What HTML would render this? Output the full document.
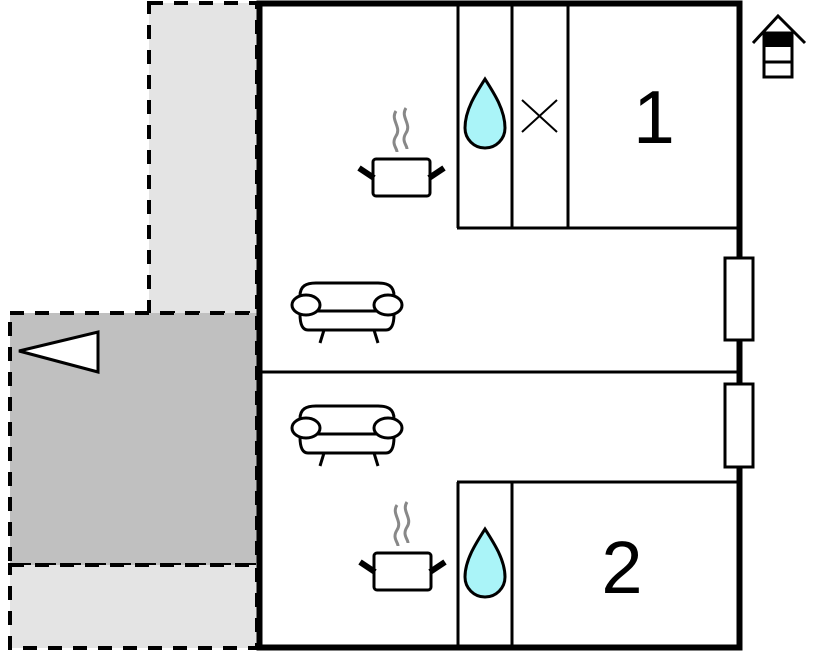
<!DOCTYPE html>
<html><head><meta charset="utf-8"><style>html,body{margin:0;padding:0;background:#fff}svg{display:block}</style></head>
<body>
<svg width="818" height="652" viewBox="0 0 818 652" xmlns="http://www.w3.org/2000/svg">
<g stroke="#000" stroke-width="4" stroke-dasharray="14,11">
<rect x="149" y="3" width="108" height="310" fill="#e4e4e4"/>
<rect x="10" y="313" width="247" height="252" fill="#c0c0c0"/>
<rect x="10" y="565" width="247" height="83" fill="#e4e4e4"/>
</g>
<polygon points="19,351 98,332 98,372" fill="#fff" stroke="#000" stroke-width="3"/>
<rect x="259" y="3" width="481" height="645" fill="#fff"/>
<g stroke="#000" stroke-width="3" fill="none">
<line x1="458" y1="5" x2="458" y2="228"/>
<line x1="512" y1="5" x2="512" y2="228"/>
<line x1="568" y1="5" x2="568" y2="228"/>
<line x1="457" y1="228" x2="740" y2="228"/>
<line x1="259" y1="372" x2="740" y2="372"/>
<line x1="457" y1="482" x2="740" y2="482"/>
<line x1="458" y1="482" x2="458" y2="648"/>
<line x1="512" y1="482" x2="512" y2="648"/>
</g>
<rect x="259.5" y="3.5" width="480" height="644" fill="none" stroke="#000" stroke-width="6"/>
<rect x="725" y="258" width="28" height="82" fill="#fff" stroke="#000" stroke-width="3"/>
<rect x="725" y="384" width="28" height="83" fill="#fff" stroke="#000" stroke-width="3"/>
<g fill="#aaf4f8" stroke="#000" stroke-width="3">
<path d="M485,79 C476,93 465,110 465,128 A20,20 0 0 0 505,128 C505,110 494,93 485,79Z"/>
<path d="M485,529 C476,543 465,560 465,577 A20,20 0 0 0 505,577 C505,560 494,543 485,529Z"/>
</g>
<g stroke="#000" stroke-width="2"><line x1="522" y1="100" x2="557" y2="132"/><line x1="557" y1="100" x2="522" y2="132"/></g>
<text x="654" y="143" font-family="Liberation Sans, sans-serif" font-size="75" text-anchor="middle">1</text>
<text x="622" y="593" font-family="Liberation Sans, sans-serif" font-size="74" text-anchor="middle">2</text>
<g>
<path d="M396,111 C390,120 402,127 396,136 C391,144 397,148 397,152 M406,108 C400,117 412,124 406,133 C401,141 407,145 407,149" fill="none" stroke="#888" stroke-width="3"/>
<rect x="373" y="159" width="57" height="37" rx="3" fill="#fff" stroke="#000" stroke-width="3"/>
<line x1="359" y1="168" x2="374" y2="178" stroke="#000" stroke-width="6"/>
<line x1="444" y1="168" x2="429" y2="178" stroke="#000" stroke-width="6"/>
</g>
<g transform="translate(1,394)">
<path d="M396,111 C390,120 402,127 396,136 C391,144 397,148 397,152 M406,108 C400,117 412,124 406,133 C401,141 407,145 407,149" fill="none" stroke="#888" stroke-width="3"/>
<rect x="373" y="159" width="57" height="37" rx="3" fill="#fff" stroke="#000" stroke-width="3"/>
<line x1="359" y1="168" x2="374" y2="178" stroke="#000" stroke-width="6"/>
<line x1="444" y1="168" x2="429" y2="178" stroke="#000" stroke-width="6"/>
</g>
<g fill="#fff" stroke="#000" stroke-width="3">
<path d="M308,330 L386,330 C392,330 394,324 394,314 L394,296 C394,286 388,283 378,283 L316,283 C306,283 300,286 300,296 L300,314 C300,324 302,330 308,330Z"/>
<line x1="308" y1="311" x2="386" y2="311"/>
<ellipse cx="306" cy="305" rx="14" ry="10"/>
<ellipse cx="388" cy="305" rx="14" ry="10"/>
<line x1="324" y1="330" x2="320" y2="343"/>
<line x1="374" y1="330" x2="378" y2="343"/>
</g>
<g transform="translate(0,123)" fill="#fff" stroke="#000" stroke-width="3">
<path d="M308,330 L386,330 C392,330 394,324 394,314 L394,296 C394,286 388,283 378,283 L316,283 C306,283 300,286 300,296 L300,314 C300,324 302,330 308,330Z"/>
<line x1="308" y1="311" x2="386" y2="311"/>
<ellipse cx="306" cy="305" rx="14" ry="10"/>
<ellipse cx="388" cy="305" rx="14" ry="10"/>
<line x1="324" y1="330" x2="320" y2="343"/>
<line x1="374" y1="330" x2="378" y2="343"/>
</g>
<polyline points="753,43 778,16 805,43" fill="none" stroke="#000" stroke-width="3"/>
<rect x="764" y="33" width="28" height="44" fill="#fff" stroke="#000" stroke-width="3"/>
<rect x="764" y="33" width="28" height="14" fill="#000"/>
<line x1="764" y1="62" x2="792" y2="62" stroke="#000" stroke-width="3"/>
</svg>
</body></html>
